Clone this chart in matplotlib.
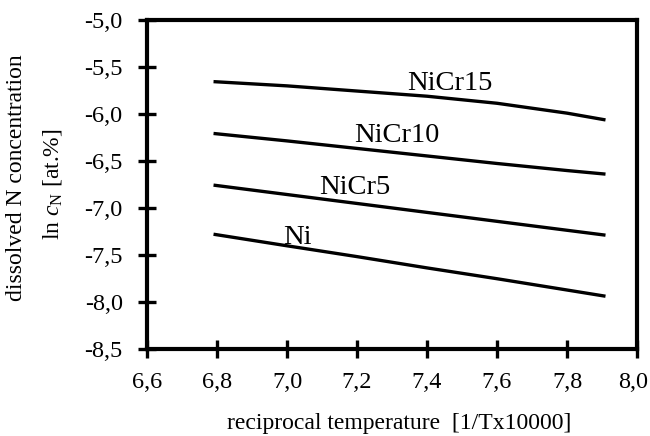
import numpy as np
import matplotlib
matplotlib.use("Agg")
import matplotlib.pyplot as plt
import matplotlib.transforms as mtransforms

plt.rcParams['font.family'] = ['Liberation Serif', 'DejaVu Serif']
plt.rcParams['mathtext.fontset'] = 'custom'
plt.rcParams['mathtext.rm'] = 'Liberation Serif'
plt.rcParams['mathtext.it'] = 'Liberation Serif:italic'

# data
x = [6.79, 7.0, 7.2, 7.4, 7.6, 7.8, 7.91]
ni = [-7.277, -7.40, -7.515, -7.635, -7.75, -7.87, -7.936]
nicr5 = [-6.755, -6.855, -6.95, -7.045, -7.14, -7.235, -7.287]
nicr10 = [-6.206, -6.285, -6.365, -6.445, -6.525, -6.60, -6.638]
nicr15 = [-5.655, -5.70, -5.755, -5.81, -5.885, -5.99, -6.062]

series = [ni, nicr5, nicr10, nicr15]
names = ['Ni', 'NiCr5', 'NiCr10', 'NiCr15']
label_x = [7.03, 7.194, 7.313, 7.466]
label_y = [-7.31, -6.78, -6.23, -5.68]

xticks = [6.6, 6.8, 7.0, 7.2, 7.4, 7.6, 7.8, 8.0]
yticks = [-8.5, -8.0, -7.5, -7.0, -6.5, -6.0, -5.5, -5.0]

fig = plt.figure(figsize=(6.5, 4.36), dpi=100)
ax = fig.add_axes([0.2262, 0.1989, 0.7538, 0.7552])

for s in series:
    ax.plot(x, s, color='black', lw=2.4, solid_capstyle='butt')

for n, lx, ly in zip(names, label_x, label_y):
    ax.text(lx, ly, n, fontsize=20.5, ha='center', va='center')

ax.set_xlim(6.6, 8.0)
ax.set_ylim(-8.5, -5.0)
ax.set_xticks(xticks, [f"{v:.1f}".replace('.', ',') for v in xticks])
ax.set_yticks(yticks, [f"{v:.1f}".replace('.', ',') for v in yticks])

for sp in ax.spines.values():
    sp.set_linewidth(3)
ax.tick_params(direction='inout', length=13, width=2.4, labelsize=17.5, pad=11)
ax.tick_params(axis='x', pad=10)

# last x label sits against the figure edge, nudge it left a little
last = ax.get_xticklabels()[-1]
last.set_transform(last.get_transform() +
                   mtransforms.ScaledTranslation(-4 / 100, 0, fig.dpi_scale_trans))

fig.text(0.614, 0.028, 'reciprocal temperature  [1/Tx10000]', fontsize=17,
         ha='center', va='center')
fig.text(0.025, 0.592, 'dissolved N concentration', fontsize=17,
         rotation=90, ha='center', va='center')
fig.text(0.081, 0.578, r'ln $c_{\rm N}$ [at.%]', fontsize=17,
         rotation=90, ha='center', va='center')

fig.savefig('out.png', dpi=100)
